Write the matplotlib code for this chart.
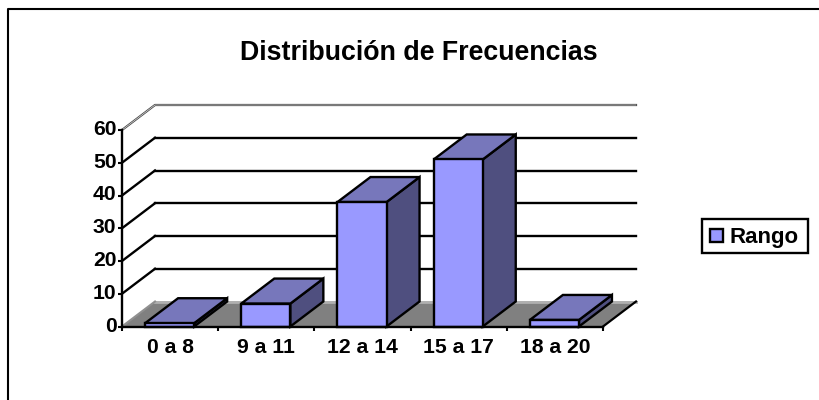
import matplotlib
matplotlib.use('Agg')
import matplotlib.pyplot as plt
from matplotlib.lines import Line2D
from matplotlib.patches import Polygon, Rectangle
from matplotlib.transforms import ScaledTranslation

categories = ['0 a 8', '9 a 11', '12 a 14', '15 a 17', '18 a 20']
values = [1, 7, 38, 51, 2]
y_ticks = [0, 10, 20, 30, 40, 50, 60]

plt.rcParams['font.family'] = ['Liberation Sans', 'DejaVu Sans']
plt.rcParams['font.weight'] = 'bold'

W, H = 820, 400
fig = plt.figure(figsize=(8.2, 4), dpi=100)
ax = fig.add_axes([122 / W, 1 - 326.5 / H, 481 / W, 196.5 / H])
ax.set_xlim(0, 5)
ax.set_ylim(0, 60)

# depth of the fake 3d box in data units
dx = 33 / 96.2
dy = 25 / 3.275
bw = 0.51

front = '#9999ff'
top = '#7777bb'
side = '#4f4f7f'

ax.add_patch(Polygon([(0, 0), (5, 0), (5 + dx, dy), (dx, dy)], fc='#808080', ec='none', zorder=1, clip_on=False))
ax.plot([dx, 5 + dx], [dy, dy], color='#b0b0b0', lw=2, zorder=1.5, clip_on=False)
ax.plot([0, dx], [0, dy], color='#909090', lw=1.5, zorder=1.5, clip_on=False)
ax.plot([5, 5 + dx], [0, dy], color='black', lw=1.6, zorder=1.5, clip_on=False)

for v in y_ticks[1:]:
    if v == 60:
        # top line is drawn double in the original
        ax.plot([0, dx, 5 + dx], [v, v + dy, v + dy], color='#444444', lw=1.6, zorder=2, clip_on=False)
        ax.plot([0, dx, 5 + dx], [v, v + dy, v + dy], color='#dddddd', lw=0.5, zorder=2.1, clip_on=False)
    else:
        ax.plot([0, dx], [v, v + dy], color='black', lw=1.7, zorder=2, clip_on=False)
        ax.plot([dx, 5 + dx], [v + dy, v + dy], color='black', lw=1.7, zorder=2, clip_on=False)

for i, v in enumerate(values):
    x0 = i + (1 - bw) / 2 - 0.015 + 0.01
    x1 = x0 + bw
    ax.add_patch(Polygon([(x1, 0), (x1 + dx, dy), (x1 + dx, v + dy), (x1, v)], fc=side, ec='black', lw=1.7, zorder=3, clip_on=False))
    ax.add_patch(Polygon([(x0, v), (x1, v), (x1 + dx, v + dy), (x0 + dx, v + dy)], fc=top, ec='black', lw=1.7, zorder=3, clip_on=False))
    ax.add_patch(Rectangle((x0, 0), bw, v, fc=front, ec='black', lw=1.7, zorder=4, clip_on=False))

ax.patch.set_visible(False)
for s in ['top', 'right']:
    ax.spines[s].set_visible(False)
for s in ['left', 'bottom']:
    ax.spines[s].set_linewidth(1.7)
    ax.spines[s].set_zorder(5)

ax.set_yticks(y_ticks)
ax.set_yticklabels([str(v) for v in y_ticks], fontsize=15.2, fontweight='bold')
ax.tick_params(axis='y', length=3, width=1.5, pad=1)
# y labels sit a little above their ticks
up = ScaledTranslation(0, 2.5 / 100, fig.dpi_scale_trans)
for lab in ax.get_yticklabels():
    lab.set_transform(lab.get_transform() + up)

ax.set_xticks(range(6))
ax.set_xticklabels([''] * 6)
ax.tick_params(axis='x', length=3, width=1.5)
for i, c in enumerate(categories):
    ax.annotate(c, (i + 0.5, 0), xytext=(0, -8), textcoords='offset points', ha='center', va='top',
                fontsize=15.2, fontweight='bold')

fig.text(419 / W, 1 - 53.5 / H, 'Distribución de Frecuencias', ha='center', va='center', fontsize=19.3, fontweight='bold')

# outer chart frame, only left and top show
fig.add_artist(Line2D([8 / W, 8 / W, 1], [0, 1 - 9 / H, 1 - 9 / H], color='black', lw=1.5))

# legend box
fig.add_artist(Rectangle((702 / W, 1 - 253 / H), 106 / W, 34 / H, transform=fig.transFigure, fc='white', ec='black', lw=1.7))
fig.add_artist(Rectangle((710 / W, 1 - 242 / H), 13 / W, 13 / H, transform=fig.transFigure, fc=front, ec='black', lw=1.7))
fig.text(730 / W, 1 - 237 / H, 'Rango', ha='left', va='center', fontsize=16, fontweight='bold')

fig.savefig('out.png', dpi=100)
